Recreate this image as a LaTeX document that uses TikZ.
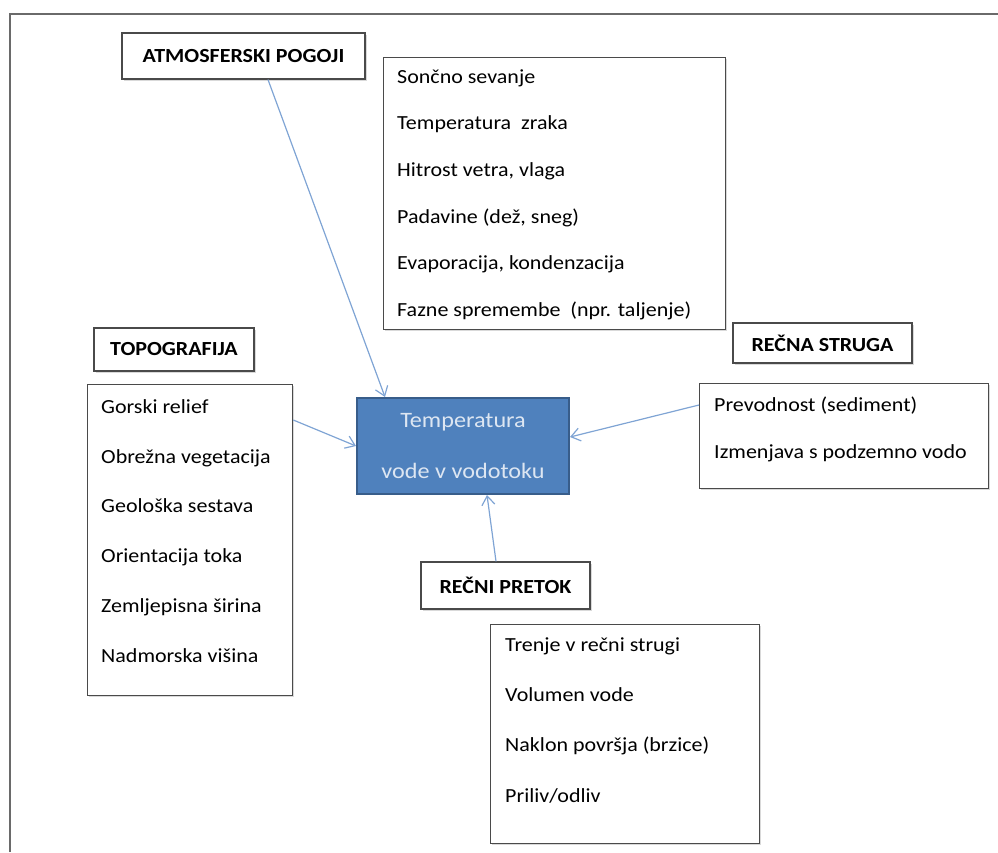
\documentclass[tikz,border=0pt]{standalone}
\usepackage{fontspec}
\setmainfont{Carlito}[FakeStretch=1.1]
\usetikzlibrary{arrows.meta,shadows}
\definecolor{framegray}{HTML}{6A6A6A}
\definecolor{boxgray}{HTML}{4A4A4A}
\definecolor{tempfill}{HTML}{4F81BD}
\definecolor{tempdraw}{HTML}{385D8A}
\definecolor{tempfont}{HTML}{DDE6F2}
\definecolor{arrowblue}{HTML}{7FA4D4}
\tikzstyle{header} = [draw=boxgray, fill=white, line width=1.3pt, inner sep=0pt, font=\fontsize{20}{24}\selectfont\bfseries, drop shadow={shadow xshift=1.5pt, shadow yshift=-1.5pt, opacity=0.3}]
\tikzstyle{listbox} = [draw=boxgray, fill=white, line width=1.3pt, anchor=north west, inner sep=0pt, drop shadow={shadow xshift=1.5pt, shadow yshift=-1.5pt, opacity=0.3}]
\tikzstyle{listtext} = [anchor=north west, align=left, inner sep=0pt, text=black]
\tikzstyle{target} = [draw=tempdraw, fill=tempfill, line width=2pt, text=tempfont, align=center, font=\fontsize{22}{51}\selectfont]
\tikzstyle{link} = [->, draw=arrowblue, line width=1.2pt]
\newcommand{\firstline}{\rule{0pt}{15pt}}

\begin{document}
\begin{tikzpicture}[x=1pt, y=-1pt, >={Straight Barb[length=9pt,width=13pt]}]
    \useasboundingbox (0,0) rectangle (998,852);
    % Frame
    \draw [framegray, line width=2pt] (10,852) -- (10,14) -- (998,14);

    % Placing the headers
    \node [header, minimum width=243, minimum height=46] (atmos) at (243.5,56) {ATMOSFERSKI POGOJI};
    \node [header, minimum width=160, minimum height=43] (topo) at (174,349.5) {TOPOGRAFIJA};
    \node [header, minimum width=179, minimum height=40] (struga) at (822.5,343) {REČNA STRUGA};
    \node [header, minimum width=169, minimum height=47] (pretok) at (505.5,585.5) {REČNI PRETOK};

    % Placing the lists
    \node [listbox, minimum width=342, minimum height=272] (atmosbox) at (383,57) {};
    \node [listtext, font=\fontsize{20}{46.6}\selectfont] (atmostext) at (397,68)
        {\firstline Sončno sevanje\\Temperatura\ \ zraka\\Hitrost vetra, vlaga\\Padavine (dež, sneg)\\Evaporacija, kondenzacija\\Fazne spremembe\ \ (npr. taljenje)};
    \node [listbox, minimum width=205, minimum height=311] (topobox) at (87,384) {};
    \node [listtext, font=\fontsize{20}{49.8}\selectfont] (topotext) at (101,398)
        {\firstline Gorski relief\\Obrežna vegetacija\\Geološka sestava\\Orientacija toka\\Zemljepisna širina\\Nadmorska višina};
    \node [listbox, minimum width=289, minimum height=105] (strugabox) at (699,383) {};
    \node [listtext, font=\fontsize{20}{47}\selectfont] (strugatext) at (714,396)
        {\firstline Prevodnost (sediment)\\Izmenjava s podzemno vodo};
    \node [listbox, minimum width=269, minimum height=219] (pretokbox) at (490,624) {};
    \node [listtext, font=\fontsize{20}{50.3}\selectfont] (pretoktext) at (505,636)
        {\firstline Trenje v rečni strugi\\Volumen vode\\Naklon površja (brzice)\\Priliv/odliv};

    % Central block
    \node [target, minimum width=212, minimum height=96] (temp) at (463,446) {Temperatura\\vode v vodotoku};

    % Connecting the nodes
    \draw [link] ([xshift=24.5pt]atmos.south) -- ([xshift=29pt]temp.north west);
    \draw [link] ([yshift=-36pt]topobox.north east) -- (temp.west);
    \draw [link] ([yshift=-22pt]strugabox.north west) -- ([yshift=9pt]temp.east);
    \draw [link] ([xshift=-9.5pt]pretok.north) -- ([xshift=24pt]temp.south);
\end{tikzpicture}
\end{document}
